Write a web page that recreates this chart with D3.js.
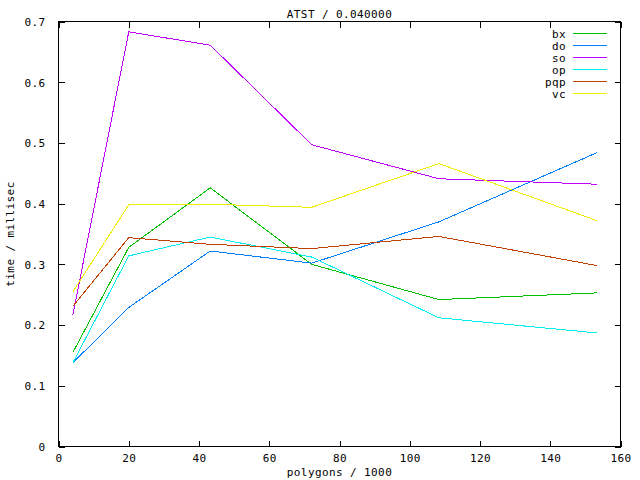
<!DOCTYPE html>
<html>
<head>
<meta charset="utf-8">
<script src="https://cdn.jsdelivr.net/npm/d3@7"></script>
<style>
  html, body { margin: 0; padding: 0; background: #fff; }
  text { font-family: "DejaVu Sans Mono", "Liberation Mono", monospace; font-size: 11px; letter-spacing: 0.4px; fill: #000; }
</style>
</head>
<body>
<svg id="chart" width="640" height="480"></svg>
<script>
const xValues = [4.1, 20, 43.2, 72.1, 108.3, 153.3];
const seriesNames = ["bx", "do", "so", "op", "pqp", "vc"];
const bx  = [0.155, 0.328, 0.426, 0.300, 0.242, 0.253];
const doS = [0.138, 0.229, 0.322, 0.302, 0.370, 0.484];
const so  = [0.217, 0.683, 0.661, 0.497, 0.441, 0.432];
const op  = [0.138, 0.314, 0.345, 0.312, 0.212, 0.187];
const pqp = [0.231, 0.344, 0.333, 0.326, 0.346, 0.298];
const vc  = [0.255, 0.398, 0.399, 0.394, 0.466, 0.372];
const seriesValues = [bx, doS, so, op, pqp, vc];
const colors = ["#00c000", "#0080ff", "#c000ff", "#00eeee", "#c04000", "#eeee00"];
const xTicks = [0, 20, 40, 60, 80, 100, 120, 140, 160];
const yTicks = [0, 0.1, 0.2, 0.3, 0.4, 0.5, 0.6, 0.7];
const titleText = "ATST / 0.040000";
const xLabel = "polygons / 1000";
const yLabel = "time / millisec";

const L = 58.5, R = 620.5, T = 21.5, B = 446.5;
const svg = d3.select("#chart");
const x = d3.scaleLinear().domain([0, 160]).range([L, R]);
const y = d3.scaleLinear().domain([0, 0.7]).range([B, T]);
const tickLen = 6;

const gx = svg.append("g").attr("transform", `translate(0,${B})`)
  .call(d3.axisBottom(x).tickValues(xTicks).tickSizeInner(-tickLen).tickSizeOuter(0).tickFormat(d3.format("d")));
const gxTop = svg.append("g").attr("transform", `translate(0,${T})`)
  .call(d3.axisTop(x).tickValues(xTicks).tickSizeInner(-tickLen).tickSizeOuter(0).tickFormat(""));
const gy = svg.append("g").attr("transform", `translate(${L},0)`)
  .call(d3.axisLeft(y).tickValues(yTicks).tickSizeInner(-tickLen).tickSizeOuter(0).tickPadding(13)
    .tickFormat(d => d === 0 ? "0" : d3.format(".1f")(d)));
const gyR = svg.append("g").attr("transform", `translate(${R},0)`)
  .call(d3.axisRight(y).tickValues(yTicks).tickSizeInner(-tickLen).tickSizeOuter(0).tickFormat(""));
[gx, gxTop, gy, gyR].forEach(g => {
  g.select(".domain").remove();
  g.selectAll("line").attr("stroke", "#000").attr("shape-rendering", "crispEdges");
  g.selectAll("text").attr("fill", "#000").attr("font-family", null).attr("font-size", null);
});
gx.selectAll(".tick text").attr("dy", null).attr("y", 15);
gy.selectAll(".tick text").attr("dy", "0.35em");

svg.append("rect").attr("x", L).attr("y", T).attr("width", R - L).attr("height", B - T)
  .attr("fill", "none").attr("stroke", "#000").attr("shape-rendering", "crispEdges");

const line = d3.line().x((d, i) => x(xValues[i])).y(d => y(d));
seriesValues.forEach((vals, k) => {
  svg.append("path").datum(vals).attr("d", line)
    .attr("fill", "none").attr("stroke", colors[k]).attr("stroke-width", 1)
    .attr("shape-rendering", "crispEdges");
});

// Legend
const legendLine = d3.line();
seriesNames.forEach((name, k) => {
  const cy = 33.5 + k * 12;
  svg.append("text").attr("x", 566).attr("y", cy + 4).attr("text-anchor", "end").text(name);
  svg.append("path").attr("d", legendLine([[573, cy], [607, cy]]))
    .attr("fill", "none").attr("stroke", colors[k]).attr("stroke-width", 1.2);
});

svg.append("text").attr("x", (L + R) / 2).attr("y", 18).attr("text-anchor", "middle").text(titleText);
svg.append("text").attr("x", (L + R) / 2).attr("y", 476).attr("text-anchor", "middle").text(xLabel);
svg.append("text").attr("transform", `translate(14,${(T + B) / 2}) rotate(-90)`).attr("text-anchor", "middle").text(yLabel);
</script>
</body>
</html>
